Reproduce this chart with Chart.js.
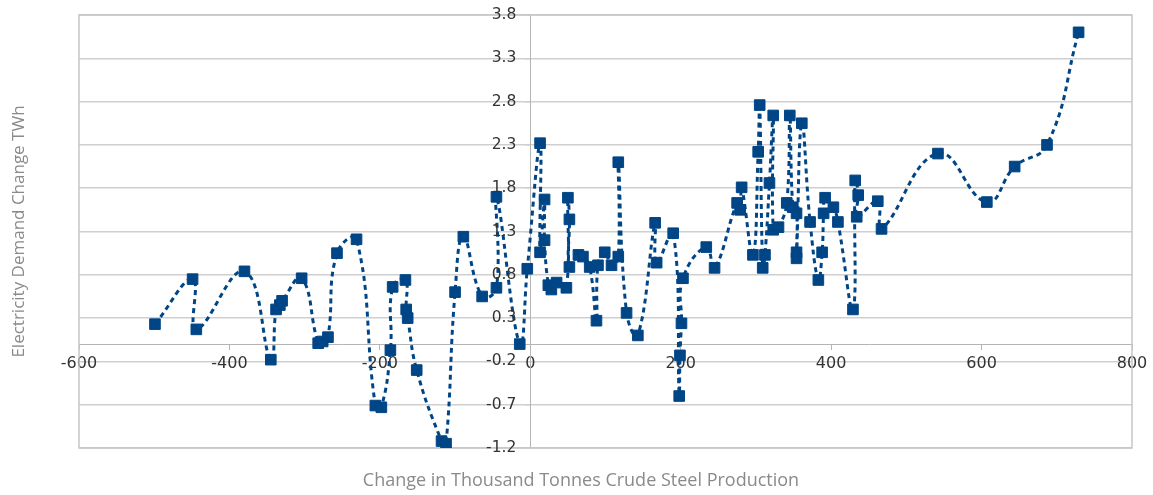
<!DOCTYPE html>
<html>
<head>
<meta charset="utf-8">
<title>Electricity Demand vs Crude Steel Production</title>
<script src="https://cdn.jsdelivr.net/npm/chart.js@4.4.1/dist/chart.umd.min.js"></script>
<style>
  html, body { margin: 0; padding: 0; background: #fff; }
  #wrap { width: 1153px; height: 495px; }
</style>
</head>
<body>
<div id="wrap"><canvas id="chart"></canvas></div>
<script>
// change in thousand tonnes crude steel production
const steelChange = [
  -499, -449, -444, -380, -345, -338, -333, -330, -304, -282, -276, -269, -257, -231,
  -206, -198, -186, -183, -166, -165, -163, -151, -118, -112, -100, -89, -64, -45, -45,
  -14, -4, 13, 13, 19, 19, 24, 28, 35, 48, 50, 52, 52, 64, 70, 79, 88, 90, 99, 108,
  117, 117, 128, 143, 166, 168, 190, 198, 199, 201, 203, 234, 245, 275, 279, 281,
  296, 303, 305, 309, 312, 318, 323, 323, 330, 341, 345, 349, 354, 354, 354, 361,
  372, 383, 388, 390, 392, 403, 409, 429, 432, 436, 434, 462, 467, 542, 607, 644,
  687, 729
];
// electricity demand change, TWh
const demandChange = [
  0.23, 0.75, 0.17, 0.84, -0.18, 0.40, 0.45, 0.50, 0.76, 0.01, 0.03, 0.08, 1.05, 1.21,
  -0.71, -0.73, -0.07, 0.66, 0.74, 0.40, 0.30, -0.30, -1.12, -1.15, 0.60, 1.24, 0.55, 0.65, 1.70,
  0.00, 0.87, 2.32, 1.06, 1.67, 1.20, 0.68, 0.63, 0.71, 0.65, 1.69, 1.44, 0.89, 1.03, 1.01, 0.89, 0.27, 0.91, 1.06, 0.91,
  1.01, 2.10, 0.36, 0.10, 1.40, 0.94, 1.28, -0.60, -0.13, 0.24, 0.76, 1.12, 0.88, 1.63, 1.55, 1.81,
  1.03, 2.22, 2.76, 0.88, 1.03, 1.86, 2.64, 1.32, 1.35, 1.63, 2.64, 1.58, 1.51, 1.06, 0.99, 2.55,
  1.41, 0.74, 1.06, 1.51, 1.69, 1.58, 1.41, 0.40, 1.89, 1.72, 1.47, 1.65, 1.33, 2.20, 1.64, 2.05,
  2.30, 3.60
];
const xTicks = [-600, -400, -200, 0, 200, 400, 600, 800];
const yTicks = [-1.2, -0.7, -0.2, 0.3, 0.8, 1.3, 1.8, 2.3, 2.8, 3.3, 3.8];

const points = steelChange.map((x, i) => ({ x: x, y: demandChange[i] }));

// frame around the plot, y tick labels beside the centred axis, axis titles
const framePlugin = {
  id: "frame",
  beforeDatasetsDraw(chart) {
    const { ctx, chartArea } = chart;
    ctx.save();
    ctx.strokeStyle = "#c6c6c6";
    ctx.lineWidth = 1.5;
    ctx.strokeRect(chartArea.left, chartArea.top, chartArea.right - chartArea.left, chartArea.bottom - chartArea.top);
    ctx.restore();
  },
  afterDraw(chart) {
    const { ctx, chartArea, scales } = chart;
    ctx.save();
    // y labels (Chart.js puts them right on top of a centred axis)
    ctx.fillStyle = "#333";
    ctx.font = "15.5px 'DejaVu Sans'";
    ctx.textAlign = "right";
    ctx.textBaseline = "middle";
    const ax = scales.x.getPixelForValue(0) - 14;
    yTicks.forEach(v => ctx.fillText(v.toFixed(1), ax, scales.y.getPixelForValue(v)));

    ctx.fillStyle = "#8a8a8a";
    ctx.textAlign = "center";
    ctx.font = "18px 'Open Sans'";
    ctx.fillText("Change in Thousand Tonnes Crude Steel Production", 581, 481);
    ctx.font = "17px 'Open Sans'";
    ctx.translate(19, (chartArea.top + chartArea.bottom) / 2);
    ctx.rotate(-Math.PI / 2);
    ctx.fillText("Electricity Demand Change TWh", 0, 0);
    ctx.restore();
  }
};

new Chart(document.getElementById("chart"), {
  type: "scatter",
  data: {
    datasets: [{
      data: points,
      showLine: true,
      tension: 0.45,
      borderColor: "#004586",
      borderWidth: 3,
      borderDash: [5, 4],
      backgroundColor: "#004586",
      pointStyle: "rect",
      pointRadius: 7.5,
      pointBorderWidth: 1,
      pointBorderColor: "#004586",
      pointBackgroundColor: "#004586"
    }]
  },
  options: {
    responsive: true,
    maintainAspectRatio: false,
    animation: false,
    layout: { padding: { left: 79, top: 15, right: 21, bottom: 47 } },
    plugins: { legend: { display: false }, tooltip: { enabled: false } },
    scales: {
      x: {
        type: "linear",
        position: { y: 0 },
        min: -600,
        max: 800,
        afterBuildTicks: (axis) => { axis.ticks = xTicks.map(v => ({ value: v })); },
        ticks: { color: "#333", font: { family: "DejaVu Sans", size: 16 }, padding: 5, maxRotation: 0 },
        grid: { drawOnChartArea: false, drawTicks: true, tickLength: 5, color: "#b5b5b5" },
        border: { color: "#b5b5b5", width: 1 }
      },
      y: {
        type: "linear",
        position: { x: 0 },
        min: -1.2,
        max: 3.8,
        afterBuildTicks: (axis) => { axis.ticks = yTicks.map(v => ({ value: v })); },
        ticks: { display: false },
        grid: { color: "#cfcfcf", lineWidth: 1.5, tickLength: 5 },
        border: { color: "#b5b5b5", width: 1 }
      }
    }
  },
  plugins: [framePlugin]
});
</script>
</body>
</html>
